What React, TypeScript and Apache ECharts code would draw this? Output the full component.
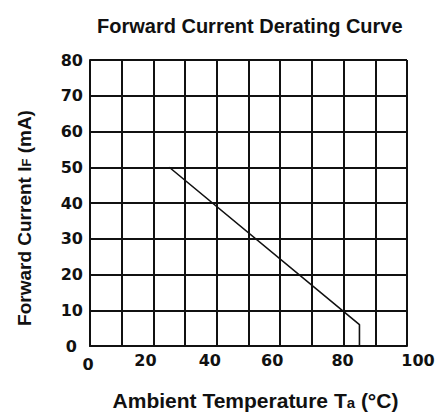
import React, { useEffect, useRef } from "react";
import * as echarts from "echarts";

// Derating curve: ambient temperature (°C) vs maximum forward current (mA)
const ambientTempC = [25, 85, 85];
const forwardCurrentMA = [50, 6, 0];

// Axis ranges and grid steps
const xMin = 0;
const xMax = 100;
const xStep = 10;
const yMin = 0;
const yMax = 80;
const yStep = 10;

// Temperature values that carry a printed label
const xLabelValues = [0, 20, 40, 60, 80, 100];

const FONT = "Liberation Sans, Arial, sans-serif";
const DIGIT_FONT = "DejaVu Sans, sans-serif";

export default function App() {
  const ref = useRef<HTMLDivElement>(null);

  useEffect(() => {
    if (!ref.current) return;
    const chart = echarts.init(ref.current, undefined, { renderer: "svg" });

    const digitStyle = {
      fontFamily: DIGIT_FONT,
      fontWeight: "bold" as const,
      fontSize: 16,
      color: "#111",
    };

    // Printed labels sit slightly off their grid lines; padding nudges each one
    const xRich: Record<string, any> = {
      x0: { ...digitStyle, padding: [4, 4, 0, 0] },
      x20: { ...digitStyle, padding: [0, 16, 0, 0] },
      x40: { ...digitStyle, padding: [0, 14, 0, 0] },
      x60: { ...digitStyle, padding: [0, 16, 0, 0] },
      x80: { ...digitStyle, padding: [0, 2, 0, 0] },
      x100: { ...digitStyle, padding: [0, 0, 0, 22] },
    };

    const yRich: Record<string, any> = {
      y: { ...digitStyle },
      y0: { ...digitStyle, padding: [0, 6, 0, 0] },
    };

    chart.setOption({
      animation: false,
      backgroundColor: "#ffffff",
      title: {
        text: "Forward Current Derating Curve",
        left: 92,
        top: 11,
        textStyle: {
          fontFamily: FONT,
          fontWeight: "bold",
          fontSize: 20,
          color: "#111",
        },
      },
      grid: {
        left: 90,
        top: 60,
        width: 317,
        height: 293,
        containLabel: false,
      },
      xAxis: {
        type: "value",
        min: xMin,
        max: xMax,
        interval: xStep,
        name: "Ambient Temperature T{sub|a} (°C)",
        nameLocation: "middle",
        nameGap: 44,
        nameTextStyle: {
          fontFamily: FONT,
          fontWeight: "bold",
          fontSize: 21,
          color: "#111",
          padding: [0, 0, 0, 14],
          rich: {
            sub: {
              fontFamily: FONT,
              fontWeight: "bold",
              fontSize: 15,
              color: "#111",
              padding: [4, 0, 0, 0],
            },
          },
        },
        axisLine: { show: true, lineStyle: { color: "#111", width: 2 } },
        axisTick: { show: false },
        splitLine: { show: true, lineStyle: { color: "#111", width: 2 } },
        axisLabel: {
          margin: 6,
          ...digitStyle,
          formatter: (v: number) =>
            xLabelValues.includes(v) ? `{x${v}|${v}}` : "",
          rich: xRich,
        },
      },
      yAxis: {
        type: "value",
        min: yMin,
        max: yMax,
        interval: yStep,
        name: "Forward Current I{sub|F} (mA)",
        nameLocation: "middle",
        nameRotate: 90,
        nameGap: 56,
        nameTextStyle: {
          fontFamily: FONT,
          fontWeight: "bold",
          fontSize: 19,
          color: "#111",
          padding: [0, 30, 0, 0],
          rich: {
            sub: {
              fontFamily: FONT,
              fontWeight: "bold",
              fontSize: 13,
              color: "#111",
              padding: [4, 0, 0, 0],
            },
          },
        },
        axisLine: { show: true, lineStyle: { color: "#111", width: 2 } },
        axisTick: { show: false },
        splitLine: { show: true, lineStyle: { color: "#111", width: 2 } },
        axisLabel: {
          margin: 7,
          ...digitStyle,
          formatter: (v: number) => (v === 0 ? `{y0|${v}}` : `{y|${v}}`),
          rich: yRich,
        },
      },
      series: [
        {
          type: "line",
          data: ambientTempC.map((t, i) => [t, forwardCurrentMA[i]]),
          showSymbol: false,
          symbol: "none",
          lineStyle: { color: "#111", width: 1.6 },
          silent: true,
        },
      ],
    });

    return () => chart.dispose();
  }, []);

  return (
    <div
      ref={ref}
      style={{ position: "fixed", left: 0, top: 0, width: 439, height: 416 }}
    />
  );
}
